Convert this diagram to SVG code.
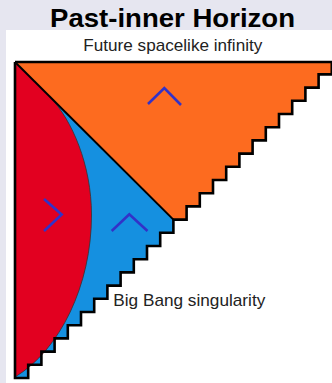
<svg xmlns="http://www.w3.org/2000/svg" width="332" height="383" viewBox="0 0 332 383">
<style>
.lbl{font-family:"Liberation Sans",Arial,sans-serif;font-size:17px;fill:#222}
.title{font-family:"Liberation Sans",Arial,sans-serif;font-size:26.5px;font-weight:bold;fill:#000}
.chev{fill:none;stroke:#3232c8;stroke-width:2.6}
</style>
<rect x="0" y="0" width="332" height="383" fill="#e6e6f0"/>
<rect x="6" y="30" width="326" height="353" fill="#ffffff"/>
<text id="title" class="title" x="50" y="26.5" textLength="245" lengthAdjust="spacingAndGlyphs">Past-inner Horizon</text>
<g id="orange-region">
<path fill="#fd6b1f" d="M15,62 H331.8 V74.4 H318.6 V87.6 H305.4 V100.8 H292.2 V114 H279 V127.2 H265.8 V140.4 H252.6 V153.6 H239.4 V166.8 H226.2 V180 H213 V193.2 H199.8 V206.4 H186.6 V219.6 H173.4 Z"/>
</g>
<g id="blue-region">
<path fill="#1590e0" d="M15,62 L173.4,219.6 V232.8 H160.2 V246 H147 V259.2 H133.8 V272.4 H120.6 V285.6 H107.4 V298.8 H94.2 V312 H81 V325.2 H67.8 V338.4 H54.6 V351.6 H41.4 V364.8 H28.2 V378 H15 Z"/>
</g>
<g id="red-region">
<path fill="#e20020" d="M15,62 L50,97 C72,120 91.5,165 91.5,215 C91.5,285 60,350 15,377 Z"/>
<path fill="none" stroke="#333" stroke-width="0.8" d="M50,97 C72,120 91.5,165 91.5,215 C91.5,285 60,350 15,377"/>
</g>
<g id="connectors">
<path fill="none" stroke="#000" stroke-width="2.6" stroke-linejoin="miter" d="M15,62 H332 M331.8,62 V74.4 H318.6 V87.6 H305.4 V100.8 H292.2 V114 H279 V127.2 H265.8 V140.4 H252.6 V153.6 H239.4 V166.8 H226.2 V180 H213 V193.2 H199.8 V206.4 H186.6 V219.6 H173.4 V232.8 H160.2 V246 H147 V259.2 H133.8 V272.4 H120.6 V285.6 H107.4 V298.8 H94.2 V312 H81 V325.2 H67.8 V338.4 H54.6 V351.6 H41.4 V364.8 H28.2 V378 H15 V62"/>
<line x1="15" y1="62" x2="173.4" y2="219.6" stroke="#000" stroke-width="2"/>
</g>
<g id="arrows">
<polyline class="chev" points="148,104 164.3,88 181,105"/>
<polyline class="chev" points="44,199 61.7,214.5 44,231"/>
<polyline class="chev" points="111.7,231 129.3,214.3 147.5,231"/>
</g>
<text id="future" class="lbl" x="83.3" y="51.3" textLength="179" lengthAdjust="spacingAndGlyphs">Future spacelike infinity</text>
<text id="bigbang" class="lbl" x="113.3" y="305.5" textLength="152" lengthAdjust="spacingAndGlyphs">Big Bang singularity</text>
</svg>
